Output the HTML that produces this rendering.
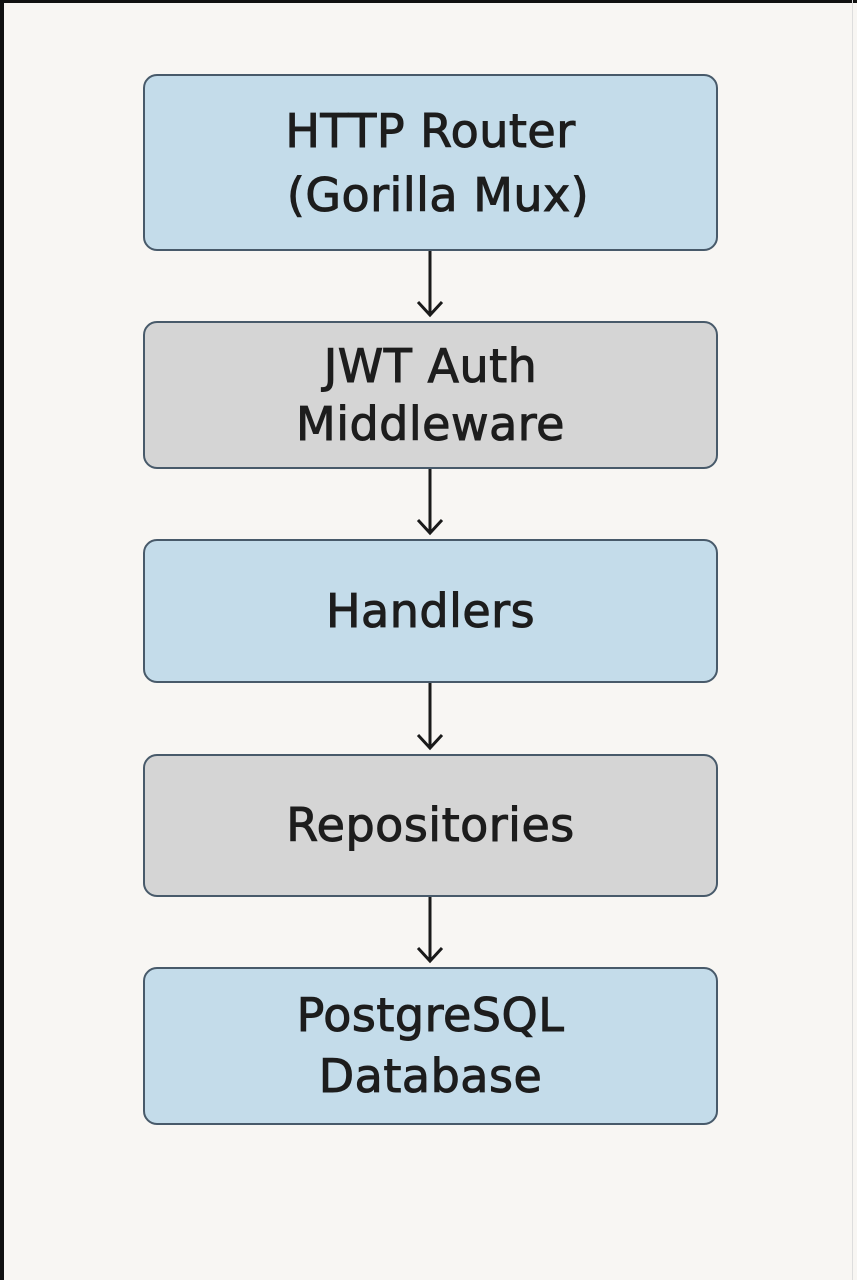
<!DOCTYPE html>
<html><head><style>
html,body{margin:0;padding:0}
body{width:857px;height:1280px;background:#f8f6f3;position:relative;overflow:hidden;font-family:"DejaVu Sans","Liberation Sans",sans-serif}
.tb{position:absolute;left:0;top:0;width:857px;height:3px;background:#111}
.lb{position:absolute;left:0;top:0;width:4px;height:1280px;background:#111}
.rb{position:absolute;left:852px;top:0;width:1px;height:1280px;background:#ddd}
.box{position:absolute;left:143px;width:575px;border:2px solid #485a6a;border-radius:14px;display:flex;align-items:center;justify-content:center;text-align:center;font-size:46px;line-height:61px;letter-spacing:0.5px;color:#1d1d1d;box-sizing:border-box;-webkit-text-stroke:1px #1d1d1d;white-space:nowrap}
.blue{background:#c4dcea}.gray{background:#d5d5d5}
</style></head><body>
<div class="tb"></div><div class="lb"></div><div class="rb"></div>
<div class="box blue" style="top:74px;height:177px;line-height:64px">HTTP Router<br>&nbsp;(Gorilla Mux)</div>
<div class="box gray" style="top:321px;height:148px;line-height:58px">JWT Auth<br>Middleware</div>
<div class="box blue" style="top:539px;height:144px">Handlers</div>
<div class="box gray" style="top:754px;height:143px">Repositories</div>
<div class="box blue" style="top:967px;height:158px">PostgreSQL<br>Database</div>
<svg width="857" height="1280" style="position:absolute;left:0;top:0" fill="none" stroke="#1a1a1a" stroke-width="3">
<path d="M430 251V315M418 302L430 315L442 302"/>
<path d="M430 469V533M418 520L430 533L442 520"/>
<path d="M430 683V748M418 735L430 748L442 735"/>
<path d="M430 897V961M418 948L430 961L442 948"/>
</svg>
</body></html>
